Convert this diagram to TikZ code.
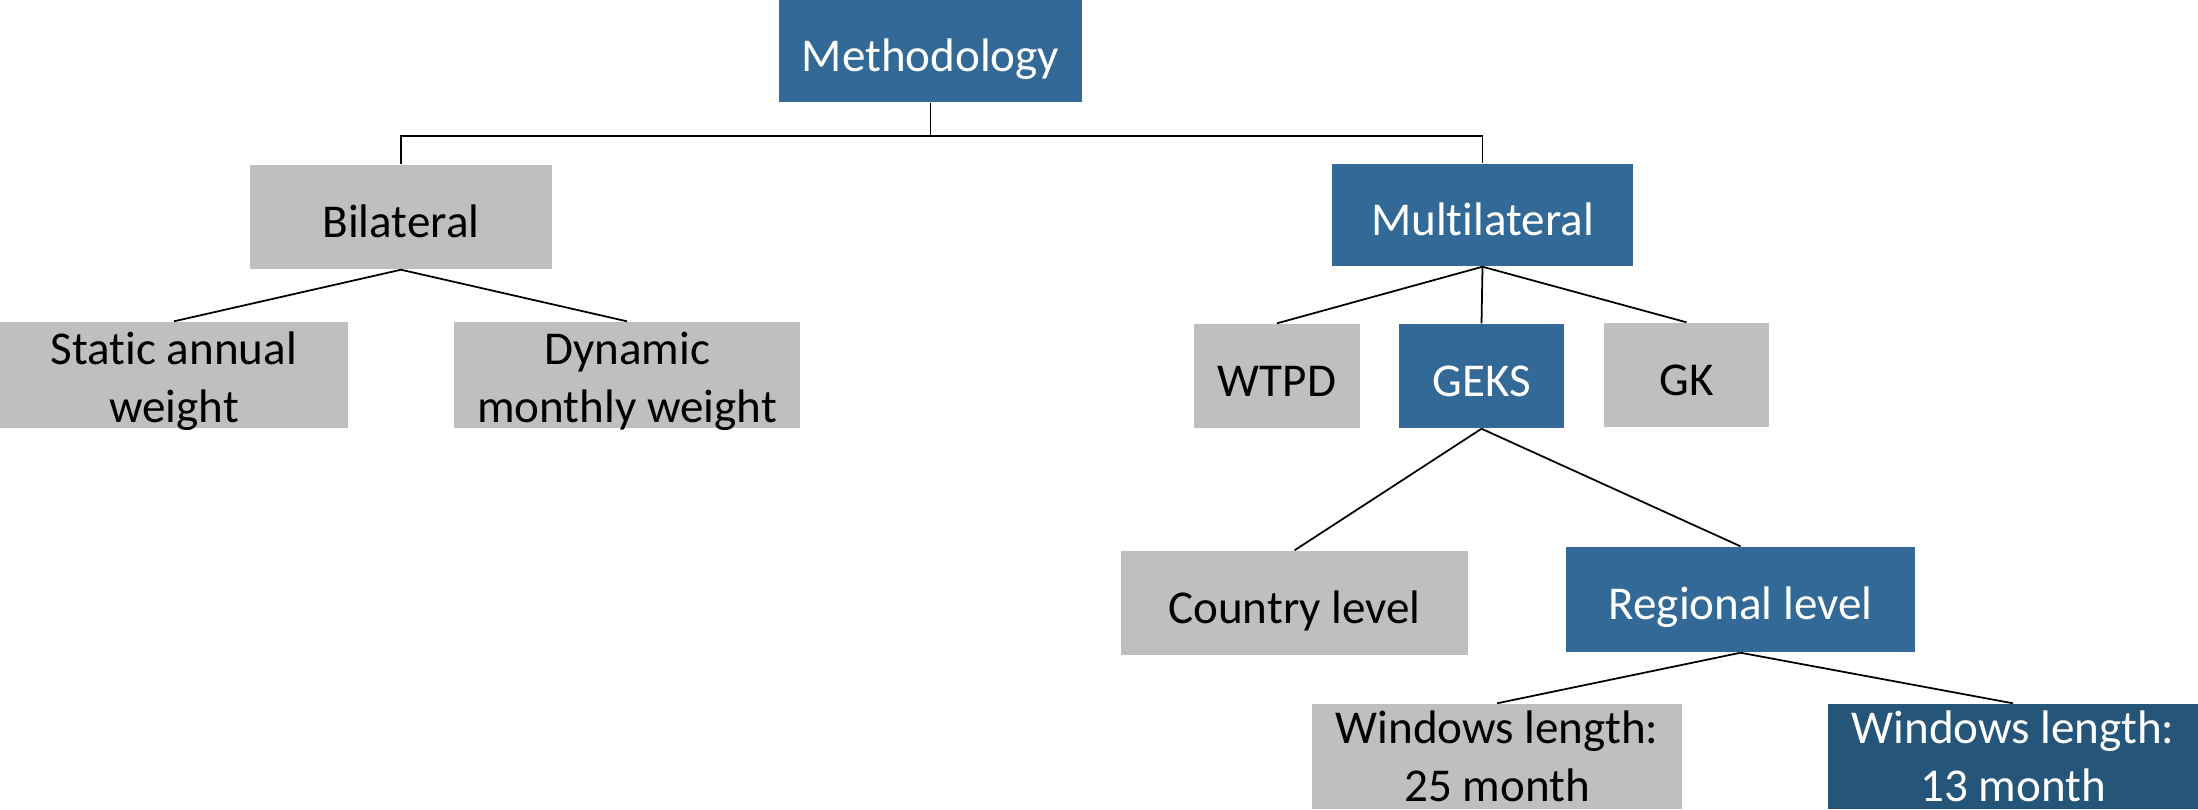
\documentclass[tikz,border=0pt]{standalone}
\usepackage{fontspec}
\setmainfont{Carlito}[Ligatures=NoCommon]
\definecolor{methblue}{RGB}{51,105,150}
\definecolor{darkblue}{RGB}{37,86,122}
\definecolor{boxgray}{RGB}{191,191,191}
\tikzset{
	box/.style={inner sep=0pt,align=center,font=\fontsize{13.4}{16.5}\selectfont,
		execute at begin node={\rule[-0.3em]{0pt}{1.45em}}},
	bluebox/.style={box,fill=methblue,text=white},
	graybox/.style={box,fill=boxgray,text=black},
	twotext/.style={inner sep=0pt,align=center,font=\fontsize{13.4}{16.5}\selectfont,yshift=-0.65mm},
	link/.style={draw=black,line width=0.5pt}
}
\begin{document}
\begin{tikzpicture}[x=0.1mm,y=-0.1mm]
	\useasboundingbox (0,0) rectangle (2198,809);
	\node[bluebox,minimum width=30.3mm,minimum height=10.2mm] (meth) at (930.5,51) {Methodology};
	\node[graybox,minimum width=30.2mm,minimum height=10.4mm] (bil) at (401,217) {Bilateral};
	\node[bluebox,minimum width=30.1mm,minimum height=10.2mm] (multi) at (1482.5,215) {Multilateral};
	\node[graybox,minimum width=34.8mm,minimum height=10.6mm,
		label={[twotext,black]center:Static annual\\weight}] (static) at (174,375) {};
	\node[graybox,minimum width=34.6mm,minimum height=10.6mm,
		label={[twotext,black]center:Dynamic\\monthly weight}] (dynamic) at (627,375) {};
	\node[graybox,minimum width=16.6mm,minimum height=10.4mm] (wtpd) at (1277,376) {WTPD};
	\node[bluebox,minimum width=16.5mm,minimum height=10.4mm] (geks) at (1481.5,376) {GEKS};
	\node[graybox,minimum width=16.5mm,minimum height=10.4mm] (gk) at (1686.5,375) {GK};
	\node[graybox,minimum width=34.7mm,minimum height=10.4mm] (country) at (1294.5,603) {Country level};
	\node[bluebox,minimum width=34.9mm,minimum height=10.5mm] (regional) at (1740.5,599.5) {Regional level};
	\node[graybox,minimum width=37mm,minimum height=10.5mm,
		label={[twotext,yshift=0.7mm,black]center:Windows length:\\25 month}] (win25) at (1497,756.5) {};
	\node[bluebox,fill=darkblue,minimum width=37mm,minimum height=10.5mm,
		label={[twotext,yshift=0.7mm,white]center:Windows length:\\13 month}] (win13) at (2013,756.5) {};
	% tree links
	\path (meth.south) ++(0,33) coordinate (bus);
	\draw[link] (meth.south) -- (bus);
	\draw[link] (bil.north) |- (bus) -| (multi.north);
	\foreach \child in {static,dynamic}
		\draw[link] (bil.south) -- (\child.north);
	\foreach \child in {wtpd,geks,gk}
		\draw[link] (multi.south) -- (\child.north);
	\foreach \child in {country,regional}
		\draw[link] (geks.south) -- (\child.north);
	\foreach \child in {win25,win13}
		\draw[link] (regional.south) -- (\child.north);
\end{tikzpicture}
\end{document}
